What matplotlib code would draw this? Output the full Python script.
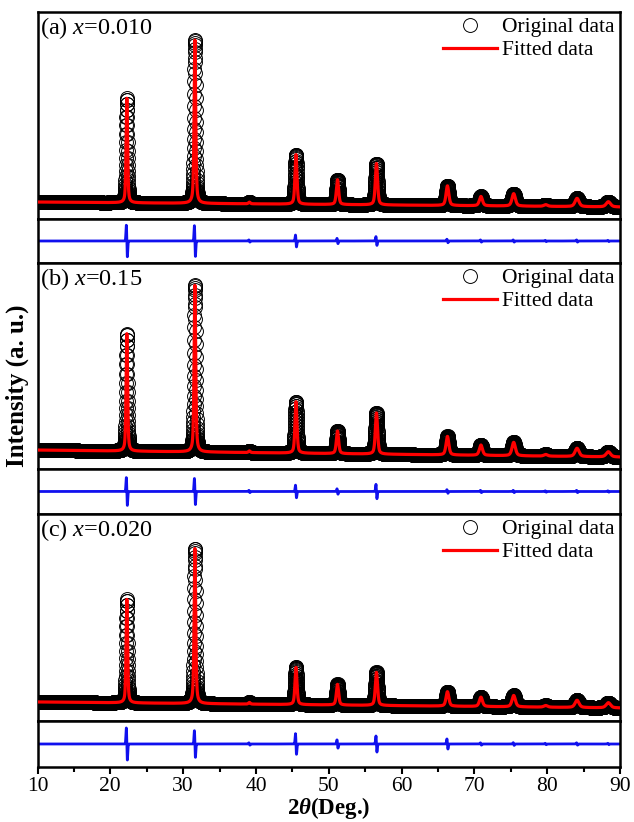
import numpy as np
import matplotlib
matplotlib.use("Agg")
import matplotlib.pyplot as plt
from matplotlib.ticker import MultipleLocator

plt.rcParams['font.family'] = ['Liberation Serif', 'DejaVu Serif']
plt.rcParams['mathtext.fontset'] = 'custom'
plt.rcParams['mathtext.rm'] = 'Liberation Serif'
plt.rcParams['mathtext.it'] = 'Liberation Serif:italic'
plt.rcParams['mathtext.bf'] = 'Liberation Serif:bold'
plt.rcParams['mathtext.bfit'] = 'Liberation Serif:italic:bold'

# peak table (2theta positions, FWHM in degrees)
peak_pos = [22.27, 31.62, 39.1, 45.5, 51.2, 56.55, 66.3, 70.9, 75.4, 79.8, 84.1, 88.4]
peak_fwhm = [0.24, 0.26, 0.3, 0.32, 0.36, 0.36, 0.45, 0.5, 0.55, 0.6, 0.65, 0.7]

# peak heights above background (fraction of panel height)
height_a = [0.505, 0.79, 0.008, 0.24, 0.12, 0.20, 0.095, 0.045, 0.06, 0.008, 0.04, 0.025]
height_b = [0.57, 0.81, 0.008, 0.25, 0.11, 0.20, 0.09, 0.05, 0.065, 0.008, 0.04, 0.025]
height_c = [0.50, 0.75, 0.008, 0.18, 0.10, 0.16, 0.07, 0.045, 0.055, 0.008, 0.035, 0.025]

# background level at 10 deg and 90 deg
bg_a = [0.082, 0.058]
bg_b = [0.092, 0.058]
bg_c = [0.092, 0.063]

# residual spike amplitudes at each peak (fraction of half the diff panel)
resid_a = [0.72, 0.70, 0.05, 0.27, 0.12, 0.20, 0.08, 0.05, 0.05, 0.03, 0.05, 0.03]
resid_b = [0.62, 0.58, 0.05, 0.28, 0.12, 0.32, 0.08, 0.05, 0.05, 0.03, 0.05, 0.03]
resid_c = [0.70, 0.58, 0.05, 0.45, 0.18, 0.35, 0.22, 0.05, 0.06, 0.03, 0.05, 0.03]

labels = ["(a) $x$=0.010", "(b) $x$=0.15", "(c) $x$=0.020"]

two_theta = np.arange(10, 90.0001, 0.015)


def profile(x, heights, bg):
    y = bg[0] + (bg[1] - bg[0]) * (x - 10) / 80
    for c, w, h in zip(peak_pos, peak_fwhm, heights):
        g = np.exp(-4 * np.log(2) * (x - c) ** 2 / w ** 2)
        l = 1 / (1 + 4 * (x - c) ** 2 / w ** 2)
        y = y + h * (0.5 * g + 0.5 * l)
    return y


def residual(x, amps):
    y = np.zeros_like(x)
    for c, a in zip(peak_pos, amps):
        s = 0.07
        u = (x - c) / s
        y = y - a * u * np.exp(0.5 - u ** 2 / 2)
    return y


fig = plt.figure(figsize=(6.34, 8.22), dpi=100)
L, W = 37.5 / 634, 582.5 / 634
# (main top, split, diff bottom) in pixels
rows = [(12, 219, 263), (263, 469, 514), (514, 721, 767)]
heights = [height_a, height_b, height_c]
bgs = [bg_a, bg_b, bg_c]
resids = [resid_a, resid_b, resid_c]

for i, (top, mid, bot) in enumerate(rows):
    ax = fig.add_axes([L, (822 - mid) / 822, W, (mid - top) / 822])
    axd = fig.add_axes([L, (822 - bot) / 822, W, (bot - mid) / 822])
    obs = profile(two_theta, heights[i], bgs[i])
    ax.plot(two_theta, obs, 'o', mfc='none', mec='black', ms=10, mew=0.7,
            label='Original data', zorder=2)
    ax.plot(two_theta, obs, '-', color='red', lw=2.3, label='Fitted data', zorder=3)
    ax.set_xlim(10, 90)
    ax.set_ylim(0, 1)
    ax.text(0.005, 0.985, labels[i], transform=ax.transAxes, fontsize=17.5,
            va='top', ha='left')
    ax.legend(loc='upper right', fontsize=15.5, frameon=False, handlelength=2.5,
              handletextpad=0.25, labelspacing=0.12, borderaxespad=0.1,
              borderpad=0.15, numpoints=1)

    axd.plot(two_theta, residual(two_theta, resids[i]), color='#1010ee', lw=2)
    axd.set_xlim(10, 90)
    axd.set_ylim(-1, 1)

    for a in (ax, axd):
        for sp in a.spines.values():
            sp.set_linewidth(1.8)
        a.tick_params(left=False, labelleft=False, bottom=False, labelbottom=False)

    if i == 2:
        axd.xaxis.set_major_locator(MultipleLocator(10))
        axd.xaxis.set_minor_locator(MultipleLocator(5))
        axd.tick_params(axis='x', which='both', bottom=True, labelbottom=True,
                        direction='out', width=1.5, labelsize=15.5, pad=2)
        axd.tick_params(axis='x', which='major', length=5)
        axd.tick_params(axis='x', which='minor', length=3.5)

fig.text(0.028, (822 - 386) / 822, "Intensity (a. u.)", rotation=90,
         fontsize=18, fontweight='bold', ha='center', va='center')
fig.text(L + W / 2, 1 / 822, r"2$\mathbfit{\theta}$(Deg.)", fontsize=16.5,
         fontweight='bold', ha='center', va='bottom')

fig.savefig("out.png", dpi=100)
